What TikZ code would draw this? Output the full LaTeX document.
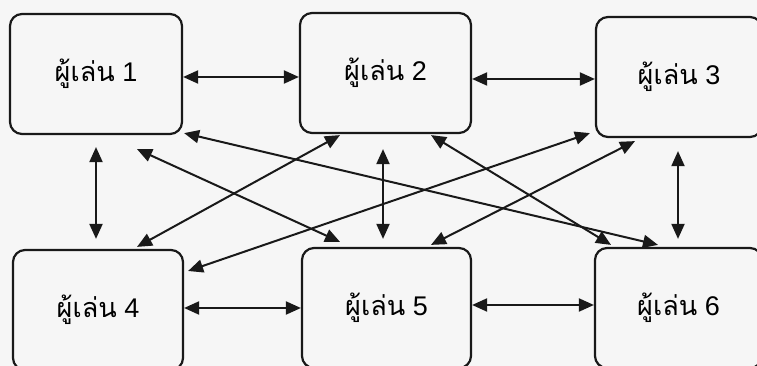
\documentclass[tikz,border=0pt]{standalone}
\usepackage{fontspec}
\setmainfont{Liberation Sans}
\newfontfamily\thaifont[Script=Thai]{Loma}
\usetikzlibrary{arrows.meta}
\definecolor{paper}{RGB}{246,246,246}
\definecolor{ink}{RGB}{25,25,25}
\newcommand{\player}[1]{{\thaifont ผู้เล่น}~#1}
\begin{document}
\begin{tikzpicture}[x=1pt,y=1pt,
  player/.style={draw=ink, line width=2.2pt, rounded corners=12pt, fill=paper,
    minimum height=120pt, inner sep=0pt, font=\fontsize{27}{32}\selectfont},
  link/.style={draw=ink, line width=2pt, {Triangle[length=15pt,width=13pt]}-{Triangle[length=15pt,width=13pt]}}]
  \useasboundingbox (0,0) rectangle (757,366);
  \fill[paper] (0,0) rectangle (757,366);
  \clip (0,0) rectangle (757,366);

  % players
  \node[player, minimum width=172pt] (b1) at (96,292)    {\player{1}};
  \node[player, minimum width=171pt] (b2) at (385.5,293) {\player{2}};
  \node[player, minimum width=166pt] (b3) at (679,289)   {\player{3}};
  \node[player, minimum width=170pt] (b4) at (98,56)     {\player{4}};
  \node[player, minimum width=169pt] (b5) at (386.5,58)  {\player{5}};
  \node[player, minimum width=167pt] (b6) at (678.5,58)  {\player{6}};

  % neighbours in a row
  \draw[link] ([yshift=-3pt]b1.east) -- ([yshift=-3pt]b1.east -| b2.west);
  \draw[link] ([yshift=-6pt]b2.east) -- ([yshift=-6pt]b2.east -| b3.west);
  \draw[link] ([yshift=2pt]b4.east)  -- ([yshift=2pt]b4.east -| b5.west);
  \draw[link] ([yshift=3pt]b5.east)  -- ([yshift=3pt]b5.east -| b6.west);

  % columns
  \draw[link, shorten <=12pt, shorten >=10pt] (b1.south) -- (b1.south |- b4.north);
  \draw[link, shorten <=15pt, shorten >=8pt] ([xshift=-2.5pt]b2.south) -- ([xshift=-2.5pt]b2.south |- b5.north);
  \draw[link, shorten <=13pt, shorten >=8pt] ([xshift=-1pt]b3.south) -- ([xshift=-1pt]b3.south |- b6.north);

  % crossing links
  \draw[link] ([xshift=41pt,yshift=-14pt]b1.south) -- ([xshift=-46.5pt,yshift=5pt]b5.north);
  \draw[link] ([xshift=1pt,yshift=2pt]b1.south east) -- ([xshift=-20.5pt,yshift=2pt]b6.north);
  \draw[link] ([xshift=-45.5pt,yshift=-1pt]b2.south) -- ([xshift=39pt,yshift=2pt]b4.north);
  \draw[link] ([xshift=45.5pt,yshift=-1pt]b2.south) -- ([xshift=-67.5pt,yshift=2pt]b6.north);
  \draw[link] ([xshift=-5pt,yshift=5pt]b3.south west) -- ([xshift=4pt,yshift=39pt]b4.east);
  \draw[link] ([xshift=-44pt,yshift=-3pt]b3.south) -- ([xshift=44.5pt,yshift=2pt]b5.north);
\end{tikzpicture}
\end{document}
